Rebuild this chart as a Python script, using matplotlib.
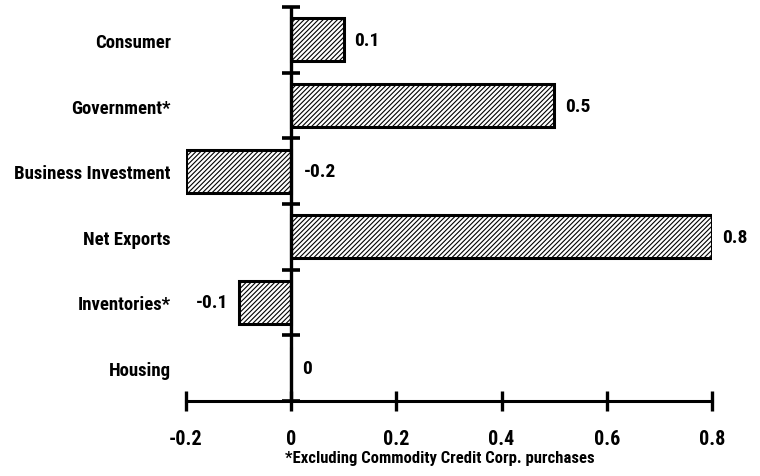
import numpy as np
import matplotlib.pyplot as plt

plt.rcParams['font.family'] = ['Roboto Condensed', 'DejaVu Sans']
plt.rcParams['font.weight'] = 'bold'
plt.rcParams['hatch.linewidth'] = 0.8

categories = ['Consumer', 'Government*', 'Business Investment', 'Net Exports',
              'Inventories*', 'Housing']
values = [0.1, 0.5, -0.2, 0.8, -0.1, 0.0]
value_labels = ['0.1', '0.5', '-0.2', '0.8', '-0.1', '0']
xticks = [-0.2, 0, 0.2, 0.4, 0.6, 0.8]
xtick_labels = ['-0.2', '0', '0.2', '0.4', '0.6', '0.8']

fig = plt.figure(figsize=(7.6, 4.77), dpi=100)
ax = fig.add_axes([186 / 760, 75 / 477, 526 / 760, 394 / 477])

y = np.arange(len(categories))
ax.barh(y, values, height=0.65, color='white', edgecolor='black',
        linewidth=2.2, hatch='///////', zorder=2)

ax.set_xlim(-0.2, 0.8)
ax.set_ylim(len(categories) - 0.5, -0.5)

# vertical zero axis with category separator ticks
ax.axvline(0, color='black', lw=2.4, zorder=3)
bounds = np.arange(len(categories) + 1) - 0.5
ax.plot(np.zeros(len(bounds)), bounds, ls='none', marker='_', ms=13,
        mew=2.6, color='black', zorder=3, clip_on=False)

for s in ['left', 'right', 'top']:
    ax.spines[s].set_visible(False)
ax.spines['bottom'].set_linewidth(2.2)

ax.set_yticks(y)
ax.set_yticklabels(categories, fontsize=13.5, fontweight='bold')
ax.tick_params(axis='y', length=0, pad=11)
ax.set_xticks(xticks)
ax.set_xticklabels(xtick_labels, fontsize=14.5, fontweight='bold')
ax.tick_params(axis='x', direction='inout', length=14, width=2.4, pad=13)

fs = 14
for yi, v, lab, name in zip(y, values, value_labels, categories):
    if name.startswith('Inventories'):
        ax.text(v - 0.02, yi, lab, ha='right', va='center', fontsize=fs,
                fontweight='bold')
    elif v < 0:
        ax.text(0.025, yi, lab, ha='left', va='center', fontsize=fs,
                fontweight='bold')
    else:
        ax.text(v + 0.02, yi, lab, ha='left', va='center', fontsize=fs,
                fontweight='bold')

fig.text(440 / 760, 1 - 459 / 477, '*Excluding Commodity Credit Corp. purchases',
         ha='center', va='center', fontsize=12, fontweight='bold')

fig.savefig('out.png', dpi=100)
